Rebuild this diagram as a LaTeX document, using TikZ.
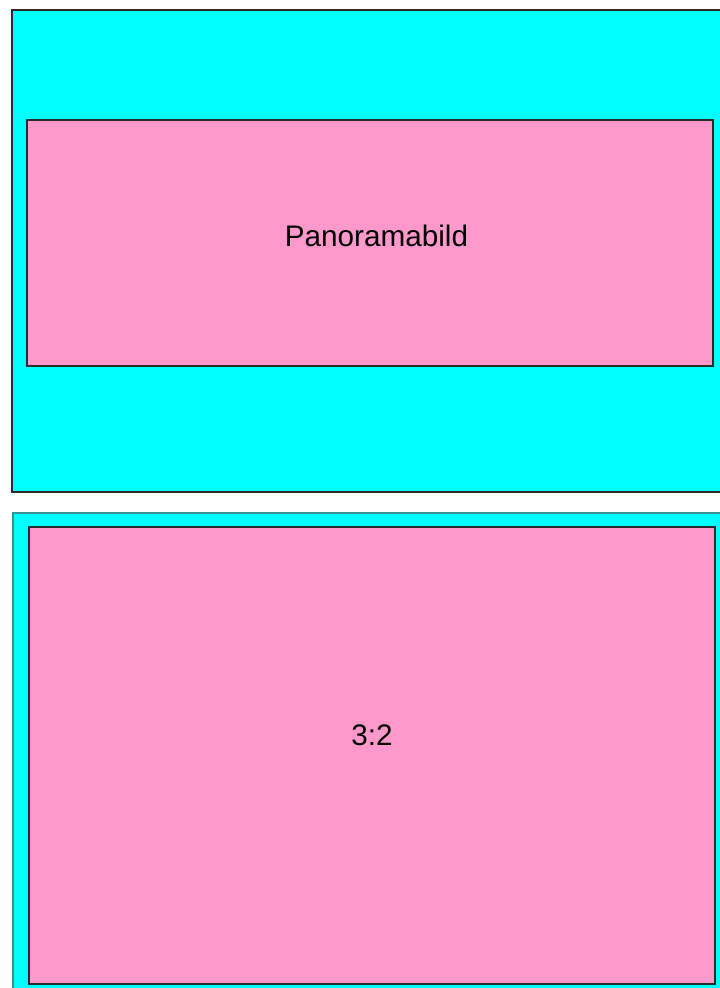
\documentclass[tikz,border=0pt]{standalone}
\usepackage{fontspec}
\setmainfont{Liberation Sans}
\usepackage{tikz}
\definecolor{ccyan}{HTML}{00FFFF}
\definecolor{cpink}{HTML}{FF99CC}
\definecolor{cedge}{HTML}{2B2B2B}
\definecolor{cteal}{HTML}{3F8F94}

\begin{document}
\begin{tikzpicture}[x=1pt, y=-1pt,
    label text/.style={font=\fontsize{29.7}{36}\selectfont, text=black, inner sep=0pt}]
  \clip (0,0) rectangle (720,988);
  \fill[white] (0,0) rectangle (720,988);
  % Panorama frame
  \fill[ccyan, draw=cedge, line width=1.2pt] (12,10) rectangle (724,492);
  \fill[cpink, draw=cedge, line width=1.2pt] (27,120) rectangle (713,366);
  \node[label text] (pano) at (376.5,236) {Panoramabild};
  % 3:2 frame
  \fill[ccyan, draw=cteal, line width=1.2pt] (13,513) rectangle (724,994);
  \fill[cpink, draw=cedge, line width=1.2pt] (29,527) rectangle (715,984);
  \node[label text] (ratio) at (372,735) {3:2};
\end{tikzpicture}
\end{document}
